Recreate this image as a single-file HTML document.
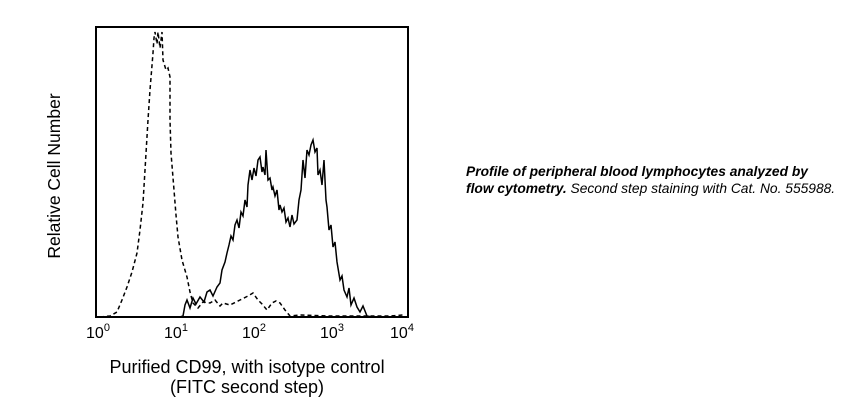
<!DOCTYPE html>
<html><head><meta charset="utf-8"><style>
html,body{margin:0;padding:0;background:#fff;}
body{width:858px;height:412px;overflow:hidden;font-family:"Liberation Sans",sans-serif;}
</style></head><body>
<svg width="858" height="412" xmlns="http://www.w3.org/2000/svg" style="position:absolute;left:0;top:0">
<rect x="96" y="27" width="312" height="290" fill="none" stroke="#000" stroke-width="2"/>
<path fill="none" stroke="#000" stroke-width="1.5" stroke-dasharray="4,3" d="M100,317 L110,316 L117,312 L122,300 L127,287 L132,272 L137,253 L140,230 L143,203 L145,170 L148,120 L150,90 L153,53 L154,38 L155,32 L157,44 L158,32 L160,48 L162,32 L163,60 L166,70 L168,68 L170,77 L170,120 L171,153 L174,190 L176,215 L178,237 L182,260 L187,277 L190,292 L193,303 L198,308 L203,302 L210,303 L215,300 L220,306 L223,303 L230,305 L240,300 L248,296 L253,293 L258,300 L262,304 L267,310 L272,303 L276,301 L280,303 L285,310 L290,316 L300,315 L330,316 L360,316 L390,316 L403,315"/>
<path fill="none" stroke="#000" stroke-width="1.5" d="M100,317 L180,317 L183,316 L185,305 L187,300 L190,308 L193,298 L196,304 L200,297 L204,302 L207,292 L210,290 L213,296 L217,287 L220,283 L222,270 L225,262 L227,253 L229,245 L231,236 L233,240 L235,225 L237,220 L239,228 L241,212 L243,216 L245,200 L247,207 L248,185 L250,170 L252,180 L254,168 L256,176 L258,160 L260,157 L262,172 L263,167 L265,175 L266,150 L268,180 L270,178 L272,190 L273,187 L275,196 L277,190 L279,210 L280,205 L282,212 L284,208 L286,222 L288,218 L290,227 L292,215 L294,224 L297,220 L299,200 L301,190 L303,160 L305,178 L307,150 L309,155 L311,145 L313,140 L315,152 L317,148 L318,175 L320,170 L322,185 L324,160 L326,200 L327,207 L329,230 L331,225 L333,247 L335,242 L337,262 L340,280 L342,276 L344,290 L347,297 L349,288 L351,305 L354,298 L357,307 L360,312 L363,306 L367,316 L372,317 L408,317"/>
<g font-size="16" text-anchor="middle" fill="#000">
<text x="98" y="338">10<tspan font-size="11" dy="-7">0</tspan></text>
<text x="176" y="338">10<tspan font-size="11" dy="-7">1</tspan></text>
<text x="254" y="338">10<tspan font-size="11" dy="-7">2</tspan></text>
<text x="332" y="338">10<tspan font-size="11" dy="-7">3</tspan></text>
<text x="402" y="338">10<tspan font-size="11" dy="-7">4</tspan></text>
</g>
<text x="247" y="373" font-size="18" text-anchor="middle">Purified CD99, with isotype control</text>
<text x="247" y="393" font-size="18" text-anchor="middle">(FITC second step)</text>
<text transform="translate(60,176) rotate(-90)" font-size="17.5" text-anchor="middle">Relative Cell Number</text>
<text x="466" y="176" font-size="13.8" font-style="italic" font-weight="bold">Profile of peripheral blood lymphocytes analyzed by</text>
<text x="466" y="193" font-size="13.8" font-style="italic"><tspan font-weight="bold">flow cytometry.</tspan> Second step staining with Cat. No. 555988.</text>
</svg>
</body></html>
